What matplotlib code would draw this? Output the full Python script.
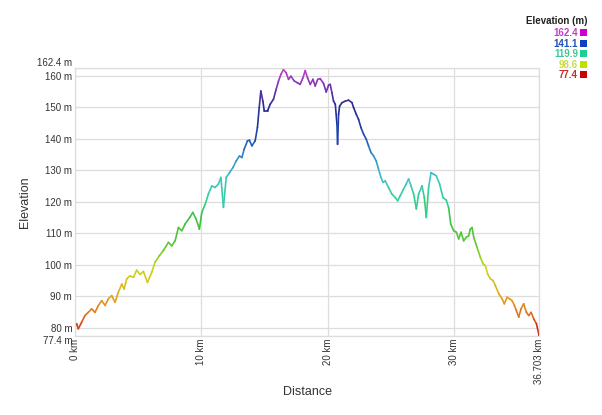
import numpy as np
import matplotlib
matplotlib.use("Agg")
import matplotlib.pyplot as plt
from matplotlib.collections import LineCollection
from matplotlib.colors import LinearSegmentedColormap, Normalize

plt.rcParams['font.family'] = ['Liberation Sans', 'DejaVu Sans']

distance_km = [
    0.0, 0.13, 0.26, 0.53, 0.79, 1.05, 1.32, 1.58, 1.85, 2.11, 2.38, 2.64, 2.90, 3.17,
    3.43, 3.70, 3.88, 4.09, 4.35, 4.62, 4.88, 5.15, 5.41, 5.73, 6.07, 6.33, 6.68, 6.99,
    7.39, 7.65, 7.92, 8.18, 8.45, 8.71, 9.11, 9.32, 9.58, 9.84, 10.03, 10.3, 10.55, 10.82,
    11.08, 11.35, 11.54, 11.74, 11.96, 12.22, 12.49, 12.75, 13.01, 13.2, 13.38, 13.64,
    13.8, 13.99, 14.25, 14.43, 14.57, 14.70, 14.86, 14.97, 15.23, 15.44, 15.70, 15.91,
    16.1, 16.29, 16.49, 16.7, 16.89, 17.08, 17.34, 17.6, 17.81, 18.03, 18.21, 18.39,
    18.61, 18.82, 19.0, 19.2, 19.4, 19.66, 19.87, 20.06, 20.19, 20.32, 20.45, 20.59,
    20.72, 20.77, 20.85, 20.93, 21.12, 21.38, 21.64, 21.91, 22.04, 22.25, 22.43, 22.62,
    22.83, 23.04, 23.22, 23.41, 23.62, 23.83, 24.01, 24.2, 24.36, 24.54, 24.8, 25.07,
    25.34, 25.52, 25.73, 25.99, 26.2, 26.39, 26.58, 26.79, 27.0, 27.18, 27.45, 27.63,
    27.79, 27.97, 28.16, 28.37, 28.58, 28.84, 29.11, 29.37, 29.56, 29.72, 29.95, 30.17,
    30.35, 30.54, 30.74, 30.95, 31.14, 31.27, 31.41, 31.54, 31.8, 32.07, 32.28, 32.46,
    32.64, 32.86, 33.07, 33.25, 33.52, 33.78, 33.96, 34.18, 34.38, 34.57, 34.76, 34.91,
    35.1, 35.28, 35.49, 35.71, 35.89, 36.08, 36.29, 36.5, 36.68, 36.703]

elevation_m = [
    80.2, 81.3, 79.7, 81.8, 83.9, 84.9, 86.0, 84.9, 87.1, 88.6, 87.1, 89.2, 90.2, 88.1,
    91.3, 93.9, 92.3, 95.5, 96.5, 96.0, 98.3, 96.9, 97.9, 94.4, 97.6, 100.8, 102.9, 104.5,
    107.1, 106.0, 107.6, 111.8, 110.8, 112.9, 115.2, 116.6, 114.5, 111.3, 116.6, 119.2, 122.4, 125.0,
    124.5, 125.6, 127.7, 118.2, 127.7, 129.2, 130.8, 132.9, 134.5, 134.0, 136.6, 139.3,
    139.5, 137.7, 139.3, 143.5, 149.8, 155.1, 151.9, 148.8, 148.8, 150.9, 152.5, 155.6,
    158.3, 160.4, 161.9, 160.9, 158.8, 159.8, 158.3, 157.7, 157.2, 159.3, 161.6, 159.3,
    157.2, 158.8, 156.7, 158.8, 159.0, 157.5, 154.8, 157.0, 157.2, 154.6, 151.9, 150.9,
    144.6, 138.2, 147.7, 150.3, 151.4, 151.9, 152.2, 151.4, 149.8, 147.7, 146.1, 143.5,
    141.4, 139.8, 137.7, 135.6, 134.5, 132.9, 130.3, 127.7, 126.1, 126.6, 124.5, 122.4,
    121.3, 120.3, 121.9, 124.0, 125.6, 127.2, 125.0, 122.4, 117.7, 122.4, 125.0, 121.3,
    115.0, 124.5, 129.2, 128.7, 128.2, 125.6, 121.3, 120.5, 118.0, 112.9, 110.8, 110.3,
    108.2, 110.3, 107.6, 108.7, 109.2, 111.3, 111.8, 108.7, 105.5, 102.3, 100.3, 99.7,
    97.1, 95.5, 95.0, 93.4, 90.8, 89.2, 87.6, 89.7, 89.2, 88.6, 87.1, 85.5,
    83.4, 86.0, 87.6, 84.9, 83.9, 84.9, 82.8, 81.3, 78.1, 77.4]

y_ticks = [77.4, 80, 90, 100, 110, 120, 130, 140, 150, 160, 162.4]
x_ticks = [0, 10, 20, 30, 36.703]
x_tick_labels = ["0 km", "10 km", "20 km", "30 km", "36.703 km"]
legend_values = [162.4, 141.1, 119.9, 98.6, 77.4]
legend_colors = ["#cc00cc", "#1040c0", "#20d090", "#c0e000", "#cc0000"]
legend_text_colors = ["#c040c8", "#2050b0", "#40c898", "#c8dc40", "#c03030"]

ymin, ymax = 77.4, 162.4
xmax = 36.703

stops = [(77.4, "#cc1010"), (84.0, "#e07020"), (91.0, "#e0b020"), (98.6, "#c8d818"),
         (106.0, "#60c830"), (114.0, "#40c040"), (119.9, "#30d090"), (127.0, "#40c4c8"),
         (134.0, "#3090c8"), (141.1, "#2048b0"), (150.0, "#282890"), (155.0, "#6030a8"),
         (162.4, "#cc40cc")]
cmap = LinearSegmentedColormap.from_list(
    "elev", [((v - ymin) / (ymax - ymin), c) for v, c in stops])

fig = plt.figure(figsize=(6.02, 4.15), dpi=100)
ax = fig.add_axes([75 / 602, 1 - 336 / 415, 464 / 602, 268 / 415])

x = np.array(distance_km)
y = np.array(elevation_m)
pts = np.column_stack([x, y]).reshape(-1, 1, 2)
segs = np.concatenate([pts[:-1], pts[1:]], axis=1)
lc = LineCollection(segs, cmap=cmap, norm=Normalize(ymin, ymax), linewidth=1.2,
                    capstyle='round', joinstyle='round')
lc.set_array((y[:-1] + y[1:]) / 2)
ax.add_collection(lc)

ax.set_xlim(0, xmax)
ax.set_ylim(ymin, ymax)

ax.set_yticks(y_ticks)
ax.set_yticklabels([f"{v:g} m" for v in y_ticks], fontsize=7, color="#333333")
for lbl, v in zip(ax.get_yticklabels(), y_ticks):
    if v == 162.4:
        lbl.set_va('bottom')
    elif v == 77.4:
        lbl.set_va('top')
ax.set_xticks(x_ticks)
ax.set_xticklabels(x_tick_labels, rotation=90, fontsize=7, color="#333333")
ax.tick_params(axis='both', length=0, pad=2)

ax.grid(True, color="#dddddd", linewidth=0.9)
ax.set_axisbelow(True)
for s in ax.spines.values():
    s.set_color("#dddddd")
    s.set_linewidth(0.9)

ax.set_ylabel("Elevation", fontsize=9, color="#333333", va='center')
ax.yaxis.set_label_coords(-(75 - 25) / 464, 0.5)
ax.set_xlabel("Distance", fontsize=9, color="#333333", va='center')
ax.xaxis.set_label_coords(0.5, -(392 - 336) / 268)

# legend
fig.text(587 / 602, 1 - 21 / 415, "Elevation (m)", ha='right', va='center',
         fontsize=7, fontweight='bold', color="#222222")
row_y = [33, 44, 54, 65, 75]
for v, c, tc, ry in zip(legend_values, legend_colors, legend_text_colors, row_y):
    fig.text(578 / 602, 1 - ry / 415, f"{v:g}", ha='right', va='center',
             fontsize=7, fontweight='bold', color=tc)
    fig.patches.append(plt.Rectangle((580 / 602, 1 - (ry + 3.5) / 415), 7 / 602, 7 / 415,
                                     transform=fig.transFigure, facecolor=c,
                                     edgecolor='none', figure=fig))

fig.savefig("out.png", dpi=100)
